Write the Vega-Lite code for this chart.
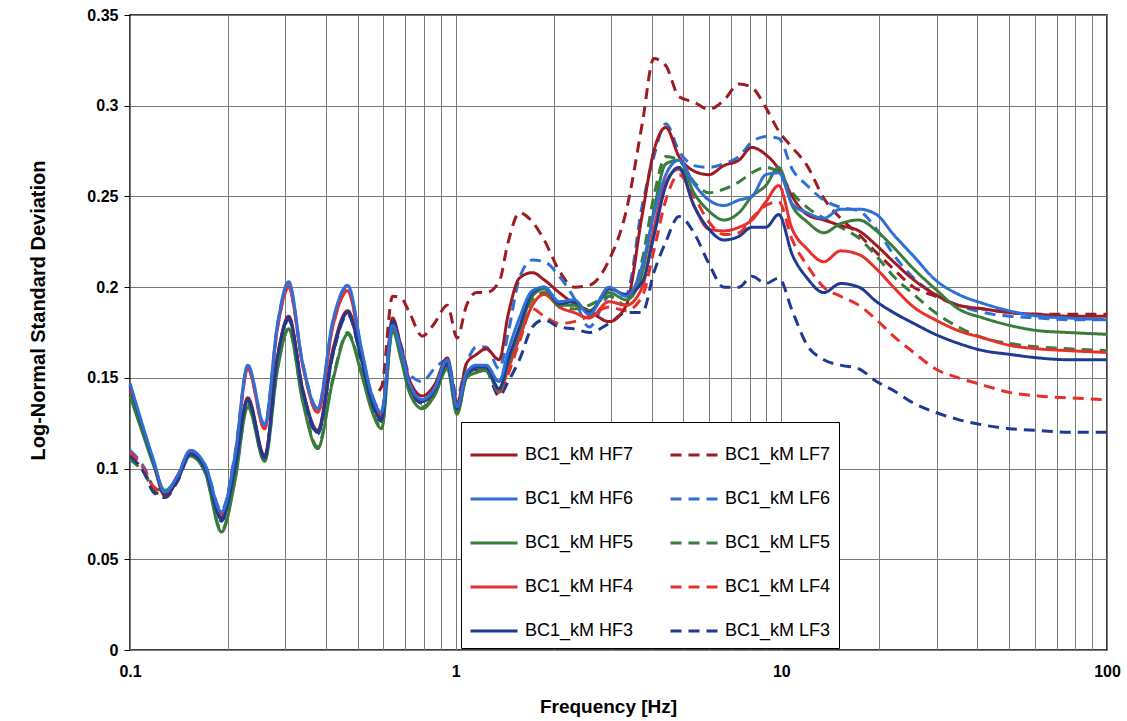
{
  "$schema": "https://vega.github.io/schema/vega-lite/v6.json",
  "width": 977,
  "height": 635,
  "autosize": {"type": "none"},
  "padding": {"left": 130, "top": 15, "right": 20, "bottom": 71},
  "background": "white",
  "config": {
    "font": "Liberation Sans",
    "view": {"stroke": "#000", "strokeWidth": 1.5},
    "legend": {
      "orient": "none",
      "legendX": 331,
      "legendY": 407,
      "columns": 2,
      "symbolType": "stroke",
      "symbolSize": 2209,
      "symbolStrokeWidth": 3,
      "labelFont": "Liberation Sans",
      "labelFontSize": 18,
      "labelColor": "#000",
      "labelOffset": 6,
      "labelLimit": 300,
      "rowPadding": 10,
      "columnPadding": 30,
      "padding": 8,
      "fillColor": "white",
      "strokeColor": "#000"
    }
  },
  "data": {"values": [
    {"s":"BC1_kM LF7","f":0.1,"v":0.106},{"s":"BC1_kM LF7","f":0.111,"v":0.098},{"s":"BC1_kM LF7","f":0.118,"v":0.088},{"s":"BC1_kM LF7","f":0.128,"v":0.085},{"s":"BC1_kM LF7","f":0.14,"v":0.094},{"s":"BC1_kM LF7","f":0.153,"v":0.108},{"s":"BC1_kM LF7","f":0.17,"v":0.1},{"s":"BC1_kM LF7","f":0.191,"v":0.073},{"s":"BC1_kM LF7","f":0.21,"v":0.1},{"s":"BC1_kM LF7","f":0.23,"v":0.138},
    {"s":"BC1_kM LF7","f":0.259,"v":0.106},{"s":"BC1_kM LF7","f":0.284,"v":0.162},{"s":"BC1_kM LF7","f":0.307,"v":0.183},{"s":"BC1_kM LF7","f":0.339,"v":0.143},{"s":"BC1_kM LF7","f":0.377,"v":0.12},{"s":"BC1_kM LF7","f":0.419,"v":0.163},{"s":"BC1_kM LF7","f":0.466,"v":0.186},{"s":"BC1_kM LF7","f":0.514,"v":0.16},{"s":"BC1_kM LF7","f":0.55,"v":0.14},{"s":"BC1_kM LF7","f":0.592,"v":0.145},
    {"s":"BC1_kM LF7","f":0.64,"v":0.195},{"s":"BC1_kM LF7","f":0.68,"v":0.194},{"s":"BC1_kM LF7","f":0.721,"v":0.186},{"s":"BC1_kM LF7","f":0.79,"v":0.173},{"s":"BC1_kM LF7","f":0.86,"v":0.18},{"s":"BC1_kM LF7","f":0.943,"v":0.19},{"s":"BC1_kM LF7","f":1.01,"v":0.172},{"s":"BC1_kM LF7","f":1.08,"v":0.19},{"s":"BC1_kM LF7","f":1.16,"v":0.197},{"s":"BC1_kM LF7","f":1.24,"v":0.197},
    {"s":"BC1_kM LF7","f":1.36,"v":0.203},{"s":"BC1_kM LF7","f":1.45,"v":0.225},{"s":"BC1_kM LF7","f":1.57,"v":0.241},{"s":"BC1_kM LF7","f":1.72,"v":0.236},{"s":"BC1_kM LF7","f":1.87,"v":0.226},{"s":"BC1_kM LF7","f":2.08,"v":0.209},{"s":"BC1_kM LF7","f":2.31,"v":0.2},{"s":"BC1_kM LF7","f":2.57,"v":0.201},{"s":"BC1_kM LF7","f":2.96,"v":0.215},{"s":"BC1_kM LF7","f":3.34,"v":0.242},
    {"s":"BC1_kM LF7","f":3.74,"v":0.29},{"s":"BC1_kM LF7","f":4.06,"v":0.326},{"s":"BC1_kM LF7","f":4.42,"v":0.322},{"s":"BC1_kM LF7","f":4.85,"v":0.305},{"s":"BC1_kM LF7","f":5.39,"v":0.302},{"s":"BC1_kM LF7","f":5.99,"v":0.298},{"s":"BC1_kM LF7","f":6.66,"v":0.303},{"s":"BC1_kM LF7","f":7.41,"v":0.312},{"s":"BC1_kM LF7","f":8.12,"v":0.31},{"s":"BC1_kM LF7","f":8.96,"v":0.299},
    {"s":"BC1_kM LF7","f":9.82,"v":0.286},{"s":"BC1_kM LF7","f":10.8,"v":0.277},{"s":"BC1_kM LF7","f":12,"v":0.267},{"s":"BC1_kM LF7","f":13.5,"v":0.249},{"s":"BC1_kM LF7","f":15.2,"v":0.238},{"s":"BC1_kM LF7","f":17.3,"v":0.229},{"s":"BC1_kM LF7","f":19.6,"v":0.219},{"s":"BC1_kM LF7","f":22.1,"v":0.21},{"s":"BC1_kM LF7","f":25.5,"v":0.2},{"s":"BC1_kM LF7","f":29.7,"v":0.195},
    {"s":"BC1_kM LF7","f":35,"v":0.19},{"s":"BC1_kM LF7","f":41.7,"v":0.188},{"s":"BC1_kM LF7","f":50,"v":0.186},{"s":"BC1_kM LF7","f":61.5,"v":0.185},{"s":"BC1_kM LF7","f":76,"v":0.185},{"s":"BC1_kM LF7","f":100,"v":0.185},

    {"s":"BC1_kM LF6","f":0.1,"v":0.11},{"s":"BC1_kM LF6","f":0.111,"v":0.1},{"s":"BC1_kM LF6","f":0.118,"v":0.09},{"s":"BC1_kM LF6","f":0.128,"v":0.087},{"s":"BC1_kM LF6","f":0.14,"v":0.096},{"s":"BC1_kM LF6","f":0.153,"v":0.11},{"s":"BC1_kM LF6","f":0.17,"v":0.102},{"s":"BC1_kM LF6","f":0.191,"v":0.077},{"s":"BC1_kM LF6","f":0.21,"v":0.108},{"s":"BC1_kM LF6","f":0.23,"v":0.156},
    {"s":"BC1_kM LF6","f":0.259,"v":0.124},{"s":"BC1_kM LF6","f":0.284,"v":0.18},{"s":"BC1_kM LF6","f":0.307,"v":0.202},{"s":"BC1_kM LF6","f":0.339,"v":0.158},{"s":"BC1_kM LF6","f":0.377,"v":0.133},{"s":"BC1_kM LF6","f":0.419,"v":0.18},{"s":"BC1_kM LF6","f":0.466,"v":0.2},{"s":"BC1_kM LF6","f":0.514,"v":0.165},{"s":"BC1_kM LF6","f":0.55,"v":0.142},{"s":"BC1_kM LF6","f":0.592,"v":0.132},
    {"s":"BC1_kM LF6","f":0.64,"v":0.18},{"s":"BC1_kM LF6","f":0.68,"v":0.168},{"s":"BC1_kM LF6","f":0.721,"v":0.152},{"s":"BC1_kM LF6","f":0.79,"v":0.148},{"s":"BC1_kM LF6","f":0.86,"v":0.155},{"s":"BC1_kM LF6","f":0.943,"v":0.16},{"s":"BC1_kM LF6","f":1.01,"v":0.14},{"s":"BC1_kM LF6","f":1.08,"v":0.158},{"s":"BC1_kM LF6","f":1.16,"v":0.167},{"s":"BC1_kM LF6","f":1.24,"v":0.167},
    {"s":"BC1_kM LF6","f":1.36,"v":0.155},{"s":"BC1_kM LF6","f":1.45,"v":0.175},{"s":"BC1_kM LF6","f":1.57,"v":0.205},{"s":"BC1_kM LF6","f":1.72,"v":0.215},{"s":"BC1_kM LF6","f":1.87,"v":0.214},{"s":"BC1_kM LF6","f":2.08,"v":0.206},{"s":"BC1_kM LF6","f":2.31,"v":0.194},{"s":"BC1_kM LF6","f":2.57,"v":0.178},{"s":"BC1_kM LF6","f":2.96,"v":0.195},{"s":"BC1_kM LF6","f":3.34,"v":0.196},
    {"s":"BC1_kM LF6","f":3.74,"v":0.245},{"s":"BC1_kM LF6","f":4.06,"v":0.272},{"s":"BC1_kM LF6","f":4.42,"v":0.29},{"s":"BC1_kM LF6","f":4.85,"v":0.275},{"s":"BC1_kM LF6","f":5.39,"v":0.267},{"s":"BC1_kM LF6","f":5.99,"v":0.266},{"s":"BC1_kM LF6","f":6.66,"v":0.268},{"s":"BC1_kM LF6","f":7.41,"v":0.272},{"s":"BC1_kM LF6","f":8.12,"v":0.28},{"s":"BC1_kM LF6","f":8.96,"v":0.283},
    {"s":"BC1_kM LF6","f":9.82,"v":0.282},{"s":"BC1_kM LF6","f":10.8,"v":0.265},{"s":"BC1_kM LF6","f":12,"v":0.256},{"s":"BC1_kM LF6","f":13.5,"v":0.248},{"s":"BC1_kM LF6","f":15.2,"v":0.244},{"s":"BC1_kM LF6","f":17.3,"v":0.242},{"s":"BC1_kM LF6","f":19.6,"v":0.232},{"s":"BC1_kM LF6","f":22.1,"v":0.218},{"s":"BC1_kM LF6","f":25.5,"v":0.205},{"s":"BC1_kM LF6","f":29.7,"v":0.196},
    {"s":"BC1_kM LF6","f":35,"v":0.19},{"s":"BC1_kM LF6","f":41.7,"v":0.186},{"s":"BC1_kM LF6","f":50,"v":0.184},{"s":"BC1_kM LF6","f":61.5,"v":0.183},{"s":"BC1_kM LF6","f":76,"v":0.182},{"s":"BC1_kM LF6","f":100,"v":0.182},

    {"s":"BC1_kM LF5","f":0.1,"v":0.105},{"s":"BC1_kM LF5","f":0.111,"v":0.097},{"s":"BC1_kM LF5","f":0.118,"v":0.089},{"s":"BC1_kM LF5","f":0.128,"v":0.088},{"s":"BC1_kM LF5","f":0.14,"v":0.095},{"s":"BC1_kM LF5","f":0.153,"v":0.107},{"s":"BC1_kM LF5","f":0.17,"v":0.098},{"s":"BC1_kM LF5","f":0.191,"v":0.066},{"s":"BC1_kM LF5","f":0.21,"v":0.094},{"s":"BC1_kM LF5","f":0.23,"v":0.135},
    {"s":"BC1_kM LF5","f":0.259,"v":0.105},{"s":"BC1_kM LF5","f":0.284,"v":0.156},{"s":"BC1_kM LF5","f":0.307,"v":0.177},{"s":"BC1_kM LF5","f":0.339,"v":0.138},{"s":"BC1_kM LF5","f":0.377,"v":0.112},{"s":"BC1_kM LF5","f":0.419,"v":0.149},{"s":"BC1_kM LF5","f":0.466,"v":0.175},{"s":"BC1_kM LF5","f":0.514,"v":0.153},{"s":"BC1_kM LF5","f":0.55,"v":0.134},{"s":"BC1_kM LF5","f":0.592,"v":0.123},
    {"s":"BC1_kM LF5","f":0.64,"v":0.177},{"s":"BC1_kM LF5","f":0.68,"v":0.161},{"s":"BC1_kM LF5","f":0.721,"v":0.143},{"s":"BC1_kM LF5","f":0.79,"v":0.134},{"s":"BC1_kM LF5","f":0.86,"v":0.141},{"s":"BC1_kM LF5","f":0.943,"v":0.156},{"s":"BC1_kM LF5","f":1.01,"v":0.131},{"s":"BC1_kM LF5","f":1.08,"v":0.151},{"s":"BC1_kM LF5","f":1.16,"v":0.154},{"s":"BC1_kM LF5","f":1.24,"v":0.155},
    {"s":"BC1_kM LF5","f":1.36,"v":0.143},{"s":"BC1_kM LF5","f":1.45,"v":0.158},{"s":"BC1_kM LF5","f":1.57,"v":0.176},{"s":"BC1_kM LF5","f":1.72,"v":0.193},{"s":"BC1_kM LF5","f":1.87,"v":0.197},{"s":"BC1_kM LF5","f":2.08,"v":0.19},{"s":"BC1_kM LF5","f":2.31,"v":0.188},{"s":"BC1_kM LF5","f":2.57,"v":0.19},{"s":"BC1_kM LF5","f":2.96,"v":0.195},{"s":"BC1_kM LF5","f":3.34,"v":0.19},
    {"s":"BC1_kM LF5","f":3.74,"v":0.215},{"s":"BC1_kM LF5","f":4.06,"v":0.25},{"s":"BC1_kM LF5","f":4.42,"v":0.272},{"s":"BC1_kM LF5","f":4.85,"v":0.27},{"s":"BC1_kM LF5","f":5.39,"v":0.258},{"s":"BC1_kM LF5","f":5.99,"v":0.252},{"s":"BC1_kM LF5","f":6.66,"v":0.254},{"s":"BC1_kM LF5","f":7.41,"v":0.258},{"s":"BC1_kM LF5","f":8.12,"v":0.263},{"s":"BC1_kM LF5","f":8.96,"v":0.266},
    {"s":"BC1_kM LF5","f":9.82,"v":0.263},{"s":"BC1_kM LF5","f":10.8,"v":0.252},{"s":"BC1_kM LF5","f":12,"v":0.244},{"s":"BC1_kM LF5","f":13.5,"v":0.238},{"s":"BC1_kM LF5","f":15.2,"v":0.233},{"s":"BC1_kM LF5","f":17.3,"v":0.227},{"s":"BC1_kM LF5","f":19.6,"v":0.217},{"s":"BC1_kM LF5","f":22.1,"v":0.206},{"s":"BC1_kM LF5","f":25.5,"v":0.196},{"s":"BC1_kM LF5","f":29.7,"v":0.186},
    {"s":"BC1_kM LF5","f":35,"v":0.178},{"s":"BC1_kM LF5","f":41.7,"v":0.172},{"s":"BC1_kM LF5","f":50,"v":0.169},{"s":"BC1_kM LF5","f":61.5,"v":0.167},{"s":"BC1_kM LF5","f":76,"v":0.166},{"s":"BC1_kM LF5","f":100,"v":0.165},

    {"s":"BC1_kM LF4","f":0.1,"v":0.109},{"s":"BC1_kM LF4","f":0.111,"v":0.099},{"s":"BC1_kM LF4","f":0.118,"v":0.09},{"s":"BC1_kM LF4","f":0.128,"v":0.087},{"s":"BC1_kM LF4","f":0.14,"v":0.096},{"s":"BC1_kM LF4","f":0.153,"v":0.109},{"s":"BC1_kM LF4","f":0.17,"v":0.101},{"s":"BC1_kM LF4","f":0.191,"v":0.075},{"s":"BC1_kM LF4","f":0.21,"v":0.106},{"s":"BC1_kM LF4","f":0.23,"v":0.155},
    {"s":"BC1_kM LF4","f":0.259,"v":0.122},{"s":"BC1_kM LF4","f":0.284,"v":0.178},{"s":"BC1_kM LF4","f":0.307,"v":0.2},{"s":"BC1_kM LF4","f":0.339,"v":0.157},{"s":"BC1_kM LF4","f":0.377,"v":0.131},{"s":"BC1_kM LF4","f":0.419,"v":0.178},{"s":"BC1_kM LF4","f":0.466,"v":0.198},{"s":"BC1_kM LF4","f":0.514,"v":0.164},{"s":"BC1_kM LF4","f":0.55,"v":0.141},{"s":"BC1_kM LF4","f":0.592,"v":0.13},
    {"s":"BC1_kM LF4","f":0.64,"v":0.178},{"s":"BC1_kM LF4","f":0.68,"v":0.164},{"s":"BC1_kM LF4","f":0.721,"v":0.146},{"s":"BC1_kM LF4","f":0.79,"v":0.137},{"s":"BC1_kM LF4","f":0.86,"v":0.143},{"s":"BC1_kM LF4","f":0.943,"v":0.158},{"s":"BC1_kM LF4","f":1.01,"v":0.133},{"s":"BC1_kM LF4","f":1.08,"v":0.152},{"s":"BC1_kM LF4","f":1.16,"v":0.156},{"s":"BC1_kM LF4","f":1.24,"v":0.155},
    {"s":"BC1_kM LF4","f":1.36,"v":0.14},{"s":"BC1_kM LF4","f":1.45,"v":0.152},{"s":"BC1_kM LF4","f":1.57,"v":0.17},{"s":"BC1_kM LF4","f":1.72,"v":0.188},{"s":"BC1_kM LF4","f":1.87,"v":0.184},{"s":"BC1_kM LF4","f":2.08,"v":0.18},{"s":"BC1_kM LF4","f":2.31,"v":0.181},{"s":"BC1_kM LF4","f":2.57,"v":0.184},{"s":"BC1_kM LF4","f":2.96,"v":0.189},{"s":"BC1_kM LF4","f":3.34,"v":0.187},
    {"s":"BC1_kM LF4","f":3.74,"v":0.195},{"s":"BC1_kM LF4","f":4.06,"v":0.22},{"s":"BC1_kM LF4","f":4.42,"v":0.248},{"s":"BC1_kM LF4","f":4.85,"v":0.262},{"s":"BC1_kM LF4","f":5.39,"v":0.25},{"s":"BC1_kM LF4","f":5.99,"v":0.236},{"s":"BC1_kM LF4","f":6.66,"v":0.229},{"s":"BC1_kM LF4","f":7.41,"v":0.23},{"s":"BC1_kM LF4","f":8.12,"v":0.238},{"s":"BC1_kM LF4","f":8.96,"v":0.245},
    {"s":"BC1_kM LF4","f":9.82,"v":0.247},{"s":"BC1_kM LF4","f":10.8,"v":0.226},{"s":"BC1_kM LF4","f":12,"v":0.212},{"s":"BC1_kM LF4","f":13.5,"v":0.2},{"s":"BC1_kM LF4","f":15.2,"v":0.195},{"s":"BC1_kM LF4","f":17.3,"v":0.19},{"s":"BC1_kM LF4","f":19.6,"v":0.182},{"s":"BC1_kM LF4","f":22.1,"v":0.173},{"s":"BC1_kM LF4","f":25.5,"v":0.164},{"s":"BC1_kM LF4","f":29.7,"v":0.155},
    {"s":"BC1_kM LF4","f":35,"v":0.15},{"s":"BC1_kM LF4","f":41.7,"v":0.146},{"s":"BC1_kM LF4","f":50,"v":0.142},{"s":"BC1_kM LF4","f":61.5,"v":0.14},{"s":"BC1_kM LF4","f":76,"v":0.139},{"s":"BC1_kM LF4","f":100,"v":0.138},

    {"s":"BC1_kM LF3","f":0.1,"v":0.107},{"s":"BC1_kM LF3","f":0.111,"v":0.097},{"s":"BC1_kM LF3","f":0.118,"v":0.087},{"s":"BC1_kM LF3","f":0.128,"v":0.084},{"s":"BC1_kM LF3","f":0.14,"v":0.093},{"s":"BC1_kM LF3","f":0.153,"v":0.107},{"s":"BC1_kM LF3","f":0.17,"v":0.099},{"s":"BC1_kM LF3","f":0.191,"v":0.071},{"s":"BC1_kM LF3","f":0.21,"v":0.099},{"s":"BC1_kM LF3","f":0.23,"v":0.137},
    {"s":"BC1_kM LF3","f":0.259,"v":0.105},{"s":"BC1_kM LF3","f":0.284,"v":0.161},{"s":"BC1_kM LF3","f":0.307,"v":0.182},{"s":"BC1_kM LF3","f":0.339,"v":0.142},{"s":"BC1_kM LF3","f":0.377,"v":0.119},{"s":"BC1_kM LF3","f":0.419,"v":0.162},{"s":"BC1_kM LF3","f":0.466,"v":0.185},{"s":"BC1_kM LF3","f":0.514,"v":0.159},{"s":"BC1_kM LF3","f":0.55,"v":0.137},{"s":"BC1_kM LF3","f":0.592,"v":0.126},
    {"s":"BC1_kM LF3","f":0.64,"v":0.18},{"s":"BC1_kM LF3","f":0.68,"v":0.164},{"s":"BC1_kM LF3","f":0.721,"v":0.145},{"s":"BC1_kM LF3","f":0.79,"v":0.136},{"s":"BC1_kM LF3","f":0.86,"v":0.142},{"s":"BC1_kM LF3","f":0.943,"v":0.157},{"s":"BC1_kM LF3","f":1.01,"v":0.132},{"s":"BC1_kM LF3","f":1.08,"v":0.151},{"s":"BC1_kM LF3","f":1.16,"v":0.155},{"s":"BC1_kM LF3","f":1.24,"v":0.154},
    {"s":"BC1_kM LF3","f":1.36,"v":0.14},{"s":"BC1_kM LF3","f":1.45,"v":0.148},{"s":"BC1_kM LF3","f":1.57,"v":0.16},{"s":"BC1_kM LF3","f":1.72,"v":0.178},{"s":"BC1_kM LF3","f":1.87,"v":0.182},{"s":"BC1_kM LF3","f":2.08,"v":0.178},{"s":"BC1_kM LF3","f":2.31,"v":0.177},{"s":"BC1_kM LF3","f":2.57,"v":0.175},{"s":"BC1_kM LF3","f":2.96,"v":0.18},{"s":"BC1_kM LF3","f":3.34,"v":0.186},
    {"s":"BC1_kM LF3","f":3.74,"v":0.186},{"s":"BC1_kM LF3","f":4.06,"v":0.208},{"s":"BC1_kM LF3","f":4.42,"v":0.225},{"s":"BC1_kM LF3","f":4.85,"v":0.239},{"s":"BC1_kM LF3","f":5.39,"v":0.23},{"s":"BC1_kM LF3","f":5.99,"v":0.213},{"s":"BC1_kM LF3","f":6.66,"v":0.2},{"s":"BC1_kM LF3","f":7.41,"v":0.2},{"s":"BC1_kM LF3","f":8.12,"v":0.206},{"s":"BC1_kM LF3","f":8.96,"v":0.202},
    {"s":"BC1_kM LF3","f":9.82,"v":0.205},{"s":"BC1_kM LF3","f":10.8,"v":0.187},{"s":"BC1_kM LF3","f":12,"v":0.168},{"s":"BC1_kM LF3","f":13.5,"v":0.16},{"s":"BC1_kM LF3","f":15.2,"v":0.157},{"s":"BC1_kM LF3","f":17.3,"v":0.155},{"s":"BC1_kM LF3","f":19.6,"v":0.148},{"s":"BC1_kM LF3","f":22.1,"v":0.143},{"s":"BC1_kM LF3","f":25.5,"v":0.136},{"s":"BC1_kM LF3","f":29.7,"v":0.131},
    {"s":"BC1_kM LF3","f":35,"v":0.127},{"s":"BC1_kM LF3","f":41.7,"v":0.124},{"s":"BC1_kM LF3","f":50,"v":0.122},{"s":"BC1_kM LF3","f":61.5,"v":0.121},{"s":"BC1_kM LF3","f":76,"v":0.12},{"s":"BC1_kM LF3","f":100,"v":0.12},

    {"s":"BC1_kM HF7","f":0.1,"v":0.145},{"s":"BC1_kM HF7","f":0.111,"v":0.118},{"s":"BC1_kM HF7","f":0.118,"v":0.103},{"s":"BC1_kM HF7","f":0.128,"v":0.085},{"s":"BC1_kM HF7","f":0.14,"v":0.094},{"s":"BC1_kM HF7","f":0.153,"v":0.108},{"s":"BC1_kM HF7","f":0.17,"v":0.1},{"s":"BC1_kM HF7","f":0.191,"v":0.073},{"s":"BC1_kM HF7","f":0.21,"v":0.101},{"s":"BC1_kM HF7","f":0.23,"v":0.139},
    {"s":"BC1_kM HF7","f":0.259,"v":0.107},{"s":"BC1_kM HF7","f":0.284,"v":0.162},{"s":"BC1_kM HF7","f":0.307,"v":0.184},{"s":"BC1_kM HF7","f":0.339,"v":0.144},{"s":"BC1_kM HF7","f":0.377,"v":0.121},{"s":"BC1_kM HF7","f":0.419,"v":0.165},{"s":"BC1_kM HF7","f":0.466,"v":0.187},{"s":"BC1_kM HF7","f":0.514,"v":0.161},{"s":"BC1_kM HF7","f":0.55,"v":0.139},{"s":"BC1_kM HF7","f":0.592,"v":0.128},
    {"s":"BC1_kM HF7","f":0.64,"v":0.183},{"s":"BC1_kM HF7","f":0.68,"v":0.167},{"s":"BC1_kM HF7","f":0.721,"v":0.149},{"s":"BC1_kM HF7","f":0.79,"v":0.14},{"s":"BC1_kM HF7","f":0.86,"v":0.146},{"s":"BC1_kM HF7","f":0.943,"v":0.161},{"s":"BC1_kM HF7","f":1.01,"v":0.136},{"s":"BC1_kM HF7","f":1.08,"v":0.158},{"s":"BC1_kM HF7","f":1.16,"v":0.163},{"s":"BC1_kM HF7","f":1.24,"v":0.166},
    {"s":"BC1_kM HF7","f":1.36,"v":0.16},{"s":"BC1_kM HF7","f":1.45,"v":0.185},{"s":"BC1_kM HF7","f":1.57,"v":0.205},{"s":"BC1_kM HF7","f":1.72,"v":0.208},{"s":"BC1_kM HF7","f":1.87,"v":0.204},{"s":"BC1_kM HF7","f":2.08,"v":0.197},{"s":"BC1_kM HF7","f":2.31,"v":0.191},{"s":"BC1_kM HF7","f":2.57,"v":0.187},{"s":"BC1_kM HF7","f":2.96,"v":0.181},{"s":"BC1_kM HF7","f":3.34,"v":0.19},
    {"s":"BC1_kM HF7","f":3.74,"v":0.24},{"s":"BC1_kM HF7","f":4.06,"v":0.275},{"s":"BC1_kM HF7","f":4.42,"v":0.288},{"s":"BC1_kM HF7","f":4.85,"v":0.272},{"s":"BC1_kM HF7","f":5.39,"v":0.264},{"s":"BC1_kM HF7","f":5.99,"v":0.262},{"s":"BC1_kM HF7","f":6.66,"v":0.267},{"s":"BC1_kM HF7","f":7.41,"v":0.27},{"s":"BC1_kM HF7","f":8.12,"v":0.277},{"s":"BC1_kM HF7","f":8.96,"v":0.273},
    {"s":"BC1_kM HF7","f":9.82,"v":0.265},{"s":"BC1_kM HF7","f":10.8,"v":0.25},{"s":"BC1_kM HF7","f":12,"v":0.24},{"s":"BC1_kM HF7","f":13.5,"v":0.237},{"s":"BC1_kM HF7","f":15.2,"v":0.234},{"s":"BC1_kM HF7","f":17.3,"v":0.231},{"s":"BC1_kM HF7","f":19.6,"v":0.223},{"s":"BC1_kM HF7","f":22.1,"v":0.214},{"s":"BC1_kM HF7","f":25.5,"v":0.204},{"s":"BC1_kM HF7","f":29.7,"v":0.196},
    {"s":"BC1_kM HF7","f":35,"v":0.19},{"s":"BC1_kM HF7","f":41.7,"v":0.188},{"s":"BC1_kM HF7","f":50,"v":0.186},{"s":"BC1_kM HF7","f":61.5,"v":0.185},{"s":"BC1_kM HF7","f":76,"v":0.184},{"s":"BC1_kM HF7","f":100,"v":0.184},

    {"s":"BC1_kM HF4","f":0.1,"v":0.143},{"s":"BC1_kM HF4","f":0.111,"v":0.119},{"s":"BC1_kM HF4","f":0.118,"v":0.104},{"s":"BC1_kM HF4","f":0.128,"v":0.087},{"s":"BC1_kM HF4","f":0.14,"v":0.096},{"s":"BC1_kM HF4","f":0.153,"v":0.109},{"s":"BC1_kM HF4","f":0.17,"v":0.101},{"s":"BC1_kM HF4","f":0.191,"v":0.075},{"s":"BC1_kM HF4","f":0.21,"v":0.106},{"s":"BC1_kM HF4","f":0.23,"v":0.155},
    {"s":"BC1_kM HF4","f":0.259,"v":0.122},{"s":"BC1_kM HF4","f":0.284,"v":0.178},{"s":"BC1_kM HF4","f":0.307,"v":0.2},{"s":"BC1_kM HF4","f":0.339,"v":0.157},{"s":"BC1_kM HF4","f":0.377,"v":0.131},{"s":"BC1_kM HF4","f":0.419,"v":0.178},{"s":"BC1_kM HF4","f":0.466,"v":0.198},{"s":"BC1_kM HF4","f":0.514,"v":0.164},{"s":"BC1_kM HF4","f":0.55,"v":0.141},{"s":"BC1_kM HF4","f":0.592,"v":0.13},
    {"s":"BC1_kM HF4","f":0.64,"v":0.178},{"s":"BC1_kM HF4","f":0.68,"v":0.164},{"s":"BC1_kM HF4","f":0.721,"v":0.146},{"s":"BC1_kM HF4","f":0.79,"v":0.137},{"s":"BC1_kM HF4","f":0.86,"v":0.143},{"s":"BC1_kM HF4","f":0.943,"v":0.158},{"s":"BC1_kM HF4","f":1.01,"v":0.133},{"s":"BC1_kM HF4","f":1.08,"v":0.152},{"s":"BC1_kM HF4","f":1.16,"v":0.156},{"s":"BC1_kM HF4","f":1.24,"v":0.156},
    {"s":"BC1_kM HF4","f":1.36,"v":0.142},{"s":"BC1_kM HF4","f":1.45,"v":0.155},{"s":"BC1_kM HF4","f":1.57,"v":0.172},{"s":"BC1_kM HF4","f":1.72,"v":0.19},{"s":"BC1_kM HF4","f":1.87,"v":0.196},{"s":"BC1_kM HF4","f":2.08,"v":0.189},{"s":"BC1_kM HF4","f":2.31,"v":0.186},{"s":"BC1_kM HF4","f":2.57,"v":0.183},{"s":"BC1_kM HF4","f":2.96,"v":0.192},{"s":"BC1_kM HF4","f":3.34,"v":0.19},
    {"s":"BC1_kM HF4","f":3.74,"v":0.2},{"s":"BC1_kM HF4","f":4.06,"v":0.232},{"s":"BC1_kM HF4","f":4.42,"v":0.258},{"s":"BC1_kM HF4","f":4.85,"v":0.265},{"s":"BC1_kM HF4","f":5.39,"v":0.245},{"s":"BC1_kM HF4","f":5.99,"v":0.232},{"s":"BC1_kM HF4","f":6.66,"v":0.231},{"s":"BC1_kM HF4","f":7.41,"v":0.233},{"s":"BC1_kM HF4","f":8.12,"v":0.237},{"s":"BC1_kM HF4","f":8.96,"v":0.247},
    {"s":"BC1_kM HF4","f":9.82,"v":0.256},{"s":"BC1_kM HF4","f":10.8,"v":0.232},{"s":"BC1_kM HF4","f":12,"v":0.221},{"s":"BC1_kM HF4","f":13.5,"v":0.214},{"s":"BC1_kM HF4","f":15.2,"v":0.22},{"s":"BC1_kM HF4","f":17.3,"v":0.218},{"s":"BC1_kM HF4","f":19.6,"v":0.21},{"s":"BC1_kM HF4","f":22.1,"v":0.2},{"s":"BC1_kM HF4","f":25.5,"v":0.189},{"s":"BC1_kM HF4","f":29.7,"v":0.182},
    {"s":"BC1_kM HF4","f":35,"v":0.176},{"s":"BC1_kM HF4","f":41.7,"v":0.172},{"s":"BC1_kM HF4","f":50,"v":0.168},{"s":"BC1_kM HF4","f":61.5,"v":0.166},{"s":"BC1_kM HF4","f":76,"v":0.165},{"s":"BC1_kM HF4","f":100,"v":0.164},

    {"s":"BC1_kM HF5","f":0.1,"v":0.14},{"s":"BC1_kM HF5","f":0.111,"v":0.116},{"s":"BC1_kM HF5","f":0.118,"v":0.102},{"s":"BC1_kM HF5","f":0.128,"v":0.088},{"s":"BC1_kM HF5","f":0.14,"v":0.095},{"s":"BC1_kM HF5","f":0.153,"v":0.107},{"s":"BC1_kM HF5","f":0.17,"v":0.098},{"s":"BC1_kM HF5","f":0.191,"v":0.065},{"s":"BC1_kM HF5","f":0.21,"v":0.093},{"s":"BC1_kM HF5","f":0.23,"v":0.134},
    {"s":"BC1_kM HF5","f":0.259,"v":0.104},{"s":"BC1_kM HF5","f":0.284,"v":0.155},{"s":"BC1_kM HF5","f":0.307,"v":0.177},{"s":"BC1_kM HF5","f":0.339,"v":0.137},{"s":"BC1_kM HF5","f":0.377,"v":0.111},{"s":"BC1_kM HF5","f":0.419,"v":0.148},{"s":"BC1_kM HF5","f":0.466,"v":0.174},{"s":"BC1_kM HF5","f":0.514,"v":0.152},{"s":"BC1_kM HF5","f":0.55,"v":0.133},{"s":"BC1_kM HF5","f":0.592,"v":0.122},
    {"s":"BC1_kM HF5","f":0.64,"v":0.176},{"s":"BC1_kM HF5","f":0.68,"v":0.16},{"s":"BC1_kM HF5","f":0.721,"v":0.142},{"s":"BC1_kM HF5","f":0.79,"v":0.133},{"s":"BC1_kM HF5","f":0.86,"v":0.14},{"s":"BC1_kM HF5","f":0.943,"v":0.155},{"s":"BC1_kM HF5","f":1.01,"v":0.13},{"s":"BC1_kM HF5","f":1.08,"v":0.15},{"s":"BC1_kM HF5","f":1.16,"v":0.153},{"s":"BC1_kM HF5","f":1.24,"v":0.154},
    {"s":"BC1_kM HF5","f":1.36,"v":0.143},{"s":"BC1_kM HF5","f":1.45,"v":0.158},{"s":"BC1_kM HF5","f":1.57,"v":0.176},{"s":"BC1_kM HF5","f":1.72,"v":0.195},{"s":"BC1_kM HF5","f":1.87,"v":0.199},{"s":"BC1_kM HF5","f":2.08,"v":0.19},{"s":"BC1_kM HF5","f":2.31,"v":0.19},{"s":"BC1_kM HF5","f":2.57,"v":0.187},{"s":"BC1_kM HF5","f":2.96,"v":0.197},{"s":"BC1_kM HF5","f":3.34,"v":0.193},
    {"s":"BC1_kM HF5","f":3.74,"v":0.208},{"s":"BC1_kM HF5","f":4.06,"v":0.242},{"s":"BC1_kM HF5","f":4.42,"v":0.268},{"s":"BC1_kM HF5","f":4.85,"v":0.27},{"s":"BC1_kM HF5","f":5.39,"v":0.252},{"s":"BC1_kM HF5","f":5.99,"v":0.242},{"s":"BC1_kM HF5","f":6.66,"v":0.237},{"s":"BC1_kM HF5","f":7.41,"v":0.241},{"s":"BC1_kM HF5","f":8.12,"v":0.25},{"s":"BC1_kM HF5","f":8.96,"v":0.256},
    {"s":"BC1_kM HF5","f":9.82,"v":0.266},{"s":"BC1_kM HF5","f":10.8,"v":0.245},{"s":"BC1_kM HF5","f":12,"v":0.236},{"s":"BC1_kM HF5","f":13.5,"v":0.23},{"s":"BC1_kM HF5","f":15.2,"v":0.235},{"s":"BC1_kM HF5","f":17.3,"v":0.237},{"s":"BC1_kM HF5","f":19.6,"v":0.231},{"s":"BC1_kM HF5","f":22.1,"v":0.222},{"s":"BC1_kM HF5","f":25.5,"v":0.21},{"s":"BC1_kM HF5","f":29.7,"v":0.199},
    {"s":"BC1_kM HF5","f":35,"v":0.188},{"s":"BC1_kM HF5","f":41.7,"v":0.183},{"s":"BC1_kM HF5","f":50,"v":0.179},{"s":"BC1_kM HF5","f":61.5,"v":0.176},{"s":"BC1_kM HF5","f":76,"v":0.175},{"s":"BC1_kM HF5","f":100,"v":0.174},

    {"s":"BC1_kM HF3","f":0.1,"v":0.146},{"s":"BC1_kM HF3","f":0.111,"v":0.119},{"s":"BC1_kM HF3","f":0.118,"v":0.104},{"s":"BC1_kM HF3","f":0.128,"v":0.086},{"s":"BC1_kM HF3","f":0.14,"v":0.094},{"s":"BC1_kM HF3","f":0.153,"v":0.108},{"s":"BC1_kM HF3","f":0.17,"v":0.1},{"s":"BC1_kM HF3","f":0.191,"v":0.072},{"s":"BC1_kM HF3","f":0.21,"v":0.1},{"s":"BC1_kM HF3","f":0.23,"v":0.138},
    {"s":"BC1_kM HF3","f":0.259,"v":0.106},{"s":"BC1_kM HF3","f":0.284,"v":0.162},{"s":"BC1_kM HF3","f":0.307,"v":0.183},{"s":"BC1_kM HF3","f":0.339,"v":0.143},{"s":"BC1_kM HF3","f":0.377,"v":0.12},{"s":"BC1_kM HF3","f":0.419,"v":0.163},{"s":"BC1_kM HF3","f":0.466,"v":0.186},{"s":"BC1_kM HF3","f":0.514,"v":0.16},{"s":"BC1_kM HF3","f":0.55,"v":0.138},{"s":"BC1_kM HF3","f":0.592,"v":0.127},
    {"s":"BC1_kM HF3","f":0.64,"v":0.181},{"s":"BC1_kM HF3","f":0.68,"v":0.165},{"s":"BC1_kM HF3","f":0.721,"v":0.146},{"s":"BC1_kM HF3","f":0.79,"v":0.137},{"s":"BC1_kM HF3","f":0.86,"v":0.143},{"s":"BC1_kM HF3","f":0.943,"v":0.158},{"s":"BC1_kM HF3","f":1.01,"v":0.133},{"s":"BC1_kM HF3","f":1.08,"v":0.152},{"s":"BC1_kM HF3","f":1.16,"v":0.156},{"s":"BC1_kM HF3","f":1.24,"v":0.156},
    {"s":"BC1_kM HF3","f":1.36,"v":0.144},{"s":"BC1_kM HF3","f":1.45,"v":0.16},{"s":"BC1_kM HF3","f":1.57,"v":0.178},{"s":"BC1_kM HF3","f":1.72,"v":0.197},{"s":"BC1_kM HF3","f":1.87,"v":0.2},{"s":"BC1_kM HF3","f":2.08,"v":0.191},{"s":"BC1_kM HF3","f":2.31,"v":0.192},{"s":"BC1_kM HF3","f":2.57,"v":0.186},{"s":"BC1_kM HF3","f":2.96,"v":0.199},{"s":"BC1_kM HF3","f":3.34,"v":0.196},
    {"s":"BC1_kM HF3","f":3.74,"v":0.203},{"s":"BC1_kM HF3","f":4.06,"v":0.228},{"s":"BC1_kM HF3","f":4.42,"v":0.256},{"s":"BC1_kM HF3","f":4.85,"v":0.266},{"s":"BC1_kM HF3","f":5.39,"v":0.245},{"s":"BC1_kM HF3","f":5.99,"v":0.232},{"s":"BC1_kM HF3","f":6.66,"v":0.226},{"s":"BC1_kM HF3","f":7.41,"v":0.228},{"s":"BC1_kM HF3","f":8.12,"v":0.233},{"s":"BC1_kM HF3","f":8.96,"v":0.233},
    {"s":"BC1_kM HF3","f":9.82,"v":0.24},{"s":"BC1_kM HF3","f":10.8,"v":0.218},{"s":"BC1_kM HF3","f":12,"v":0.205},{"s":"BC1_kM HF3","f":13.5,"v":0.197},{"s":"BC1_kM HF3","f":15.2,"v":0.202},{"s":"BC1_kM HF3","f":17.3,"v":0.2},{"s":"BC1_kM HF3","f":19.6,"v":0.192},{"s":"BC1_kM HF3","f":22.1,"v":0.186},{"s":"BC1_kM HF3","f":25.5,"v":0.18},{"s":"BC1_kM HF3","f":29.7,"v":0.174},
    {"s":"BC1_kM HF3","f":35,"v":0.169},{"s":"BC1_kM HF3","f":41.7,"v":0.165},{"s":"BC1_kM HF3","f":50,"v":0.163},{"s":"BC1_kM HF3","f":61.5,"v":0.161},{"s":"BC1_kM HF3","f":76,"v":0.16},{"s":"BC1_kM HF3","f":100,"v":0.16},

    {"s":"BC1_kM HF6","f":0.1,"v":0.147},{"s":"BC1_kM HF6","f":0.111,"v":0.12},{"s":"BC1_kM HF6","f":0.118,"v":0.105},{"s":"BC1_kM HF6","f":0.128,"v":0.087},{"s":"BC1_kM HF6","f":0.14,"v":0.096},{"s":"BC1_kM HF6","f":0.153,"v":0.11},{"s":"BC1_kM HF6","f":0.17,"v":0.102},{"s":"BC1_kM HF6","f":0.191,"v":0.076},{"s":"BC1_kM HF6","f":0.21,"v":0.107},{"s":"BC1_kM HF6","f":0.23,"v":0.157},
    {"s":"BC1_kM HF6","f":0.259,"v":0.124},{"s":"BC1_kM HF6","f":0.284,"v":0.18},{"s":"BC1_kM HF6","f":0.307,"v":0.203},{"s":"BC1_kM HF6","f":0.339,"v":0.158},{"s":"BC1_kM HF6","f":0.377,"v":0.133},{"s":"BC1_kM HF6","f":0.419,"v":0.181},{"s":"BC1_kM HF6","f":0.466,"v":0.201},{"s":"BC1_kM HF6","f":0.514,"v":0.166},{"s":"BC1_kM HF6","f":0.55,"v":0.142},{"s":"BC1_kM HF6","f":0.592,"v":0.131},
    {"s":"BC1_kM HF6","f":0.64,"v":0.179},{"s":"BC1_kM HF6","f":0.68,"v":0.165},{"s":"BC1_kM HF6","f":0.721,"v":0.147},{"s":"BC1_kM HF6","f":0.79,"v":0.138},{"s":"BC1_kM HF6","f":0.86,"v":0.144},{"s":"BC1_kM HF6","f":0.943,"v":0.16},{"s":"BC1_kM HF6","f":1.01,"v":0.134},{"s":"BC1_kM HF6","f":1.08,"v":0.153},{"s":"BC1_kM HF6","f":1.16,"v":0.157},{"s":"BC1_kM HF6","f":1.24,"v":0.157},
    {"s":"BC1_kM HF6","f":1.36,"v":0.148},{"s":"BC1_kM HF6","f":1.45,"v":0.165},{"s":"BC1_kM HF6","f":1.57,"v":0.183},{"s":"BC1_kM HF6","f":1.72,"v":0.198},{"s":"BC1_kM HF6","f":1.87,"v":0.2},{"s":"BC1_kM HF6","f":2.08,"v":0.192},{"s":"BC1_kM HF6","f":2.31,"v":0.193},{"s":"BC1_kM HF6","f":2.57,"v":0.185},{"s":"BC1_kM HF6","f":2.96,"v":0.2},{"s":"BC1_kM HF6","f":3.34,"v":0.195},
    {"s":"BC1_kM HF6","f":3.74,"v":0.212},{"s":"BC1_kM HF6","f":4.06,"v":0.24},{"s":"BC1_kM HF6","f":4.42,"v":0.262},{"s":"BC1_kM HF6","f":4.85,"v":0.27},{"s":"BC1_kM HF6","f":5.39,"v":0.257},{"s":"BC1_kM HF6","f":5.99,"v":0.248},{"s":"BC1_kM HF6","f":6.66,"v":0.245},{"s":"BC1_kM HF6","f":7.41,"v":0.248},{"s":"BC1_kM HF6","f":8.12,"v":0.25},{"s":"BC1_kM HF6","f":8.96,"v":0.262},
    {"s":"BC1_kM HF6","f":9.82,"v":0.263},{"s":"BC1_kM HF6","f":10.8,"v":0.246},{"s":"BC1_kM HF6","f":12,"v":0.241},{"s":"BC1_kM HF6","f":13.5,"v":0.238},{"s":"BC1_kM HF6","f":15.2,"v":0.243},{"s":"BC1_kM HF6","f":17.3,"v":0.243},{"s":"BC1_kM HF6","f":19.6,"v":0.24},{"s":"BC1_kM HF6","f":22.1,"v":0.229},{"s":"BC1_kM HF6","f":25.5,"v":0.217},{"s":"BC1_kM HF6","f":29.7,"v":0.204},
    {"s":"BC1_kM HF6","f":35,"v":0.196},{"s":"BC1_kM HF6","f":41.7,"v":0.191},{"s":"BC1_kM HF6","f":50,"v":0.187},{"s":"BC1_kM HF6","f":61.5,"v":0.184},{"s":"BC1_kM HF6","f":76,"v":0.183},{"s":"BC1_kM HF6","f":100,"v":0.182}
  ]},
  "mark": {"type": "line", "interpolate": "monotone", "strokeWidth": 3},
  "encoding": {
    "x": {
      "field": "f",
      "type": "quantitative",
      "scale": {"type": "log", "domain": [0.1, 100], "nice": false},
      "axis": {
        "values": [0.1,0.2,0.3,0.4,0.5,0.6,0.7,0.8,0.9,1,2,3,4,5,6,7,8,9,10,20,30,40,50,60,70,80,90,100],
        "format": "~g",
        "labelExpr": "datum.value == 0.1 || datum.value == 1 || datum.value == 10 || datum.value == 100 ? datum.label : ''",
        "labelOverlap": false,
        "labelFlush": false,
        "labelFont": "Liberation Sans",
        "labelFontSize": 16,
        "labelFontWeight": "bold",
        "labelColor": "#000",
        "labelPadding": 13,
        "ticks": false,
        "domain": false,
        "grid": true,
        "gridColor": "#7a7a7a",
        "gridWidth": 1,
        "title": "Frequency [Hz]",
        "titleFont": "Liberation Sans",
        "titleFontSize": 19,
        "titleFontWeight": "bold",
        "titleColor": "#000",
        "titleX": 478,
        "titleY": 62,
        "titleAlign": "center",
        "titleBaseline": "alphabetic"
      }
    },
    "y": {
      "field": "v",
      "type": "quantitative",
      "scale": {"domain": [0, 0.35], "nice": false},
      "axis": {
        "values": [0,0.05,0.1,0.15,0.2,0.25,0.3,0.35],
        "format": "~g",
        "labelFont": "Liberation Sans",
        "labelFontSize": 16,
        "labelFontWeight": "bold",
        "labelColor": "#000",
        "labelPadding": 6,
        "ticks": true,
        "tickSize": 6,
        "tickColor": "#000",
        "domain": false,
        "grid": true,
        "gridColor": "#7a7a7a",
        "gridWidth": 1,
        "title": "Log-Normal Standard Deviation",
        "titleFont": "Liberation Sans",
        "titleFontSize": 20,
        "titleFontWeight": "bold",
        "titleColor": "#000",
        "titleX": -92,
        "titleY": 295,
        "titleAngle": -90,
        "titleAlign": "center",
        "titleBaseline": "middle"
      }
    },
    "color": {
      "field": "s",
      "type": "nominal",
      "scale": {
        "domain": ["BC1_kM HF7","BC1_kM HF6","BC1_kM HF5","BC1_kM HF4","BC1_kM HF3","BC1_kM LF7","BC1_kM LF6","BC1_kM LF5","BC1_kM LF4","BC1_kM LF3"],
        "range": ["#9e1b22","#2f6fd6","#3a7d3a","#e8302b","#1f3a91","#9e1b22","#2f6fd6","#3a7d3a","#e8302b","#1f3a91"]
      },
      "legend": {"title": null}
    },
    "strokeDash": {
      "field": "s",
      "type": "nominal",
      "scale": {
        "domain": ["BC1_kM HF7","BC1_kM HF6","BC1_kM HF5","BC1_kM HF4","BC1_kM HF3","BC1_kM LF7","BC1_kM LF6","BC1_kM LF5","BC1_kM LF4","BC1_kM LF3"],
        "range": [[1,0],[1,0],[1,0],[1,0],[1,0],[11,7],[11,7],[11,7],[11,7],[11,7]]
      },
      "legend": {"title": null}
    }
  }
}
